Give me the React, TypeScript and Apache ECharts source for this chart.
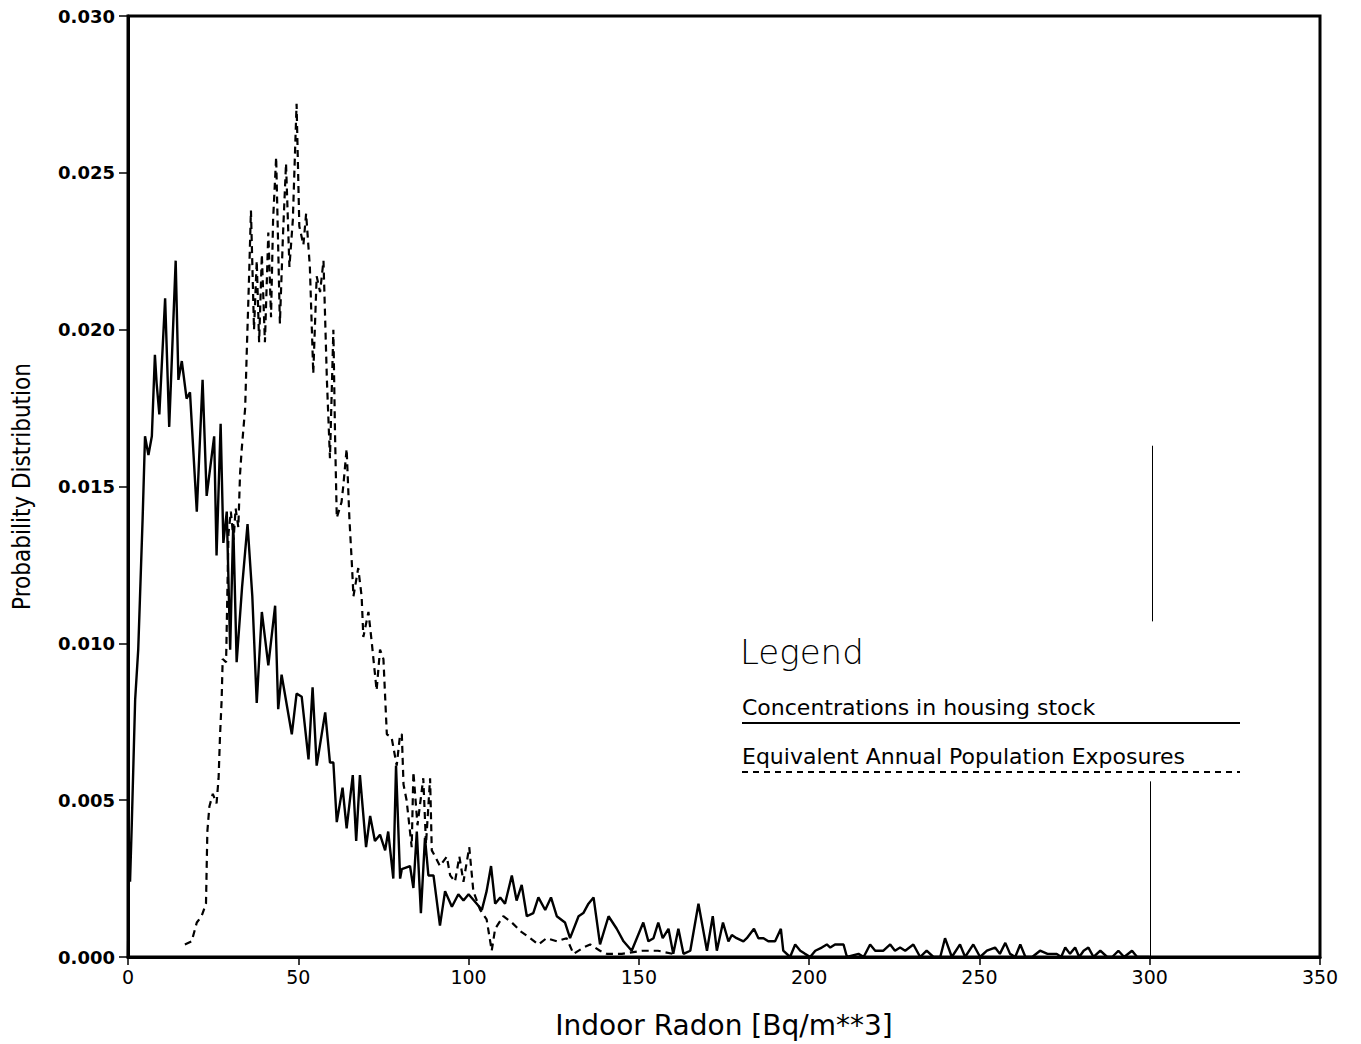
import React, { useEffect, useRef } from "react";
import * as echarts from "echarts";

// Concentrations in housing stock (solid)
const housingX = [0, 0.3, 0.6, 1.1, 2.1, 3.0, 3.5, 4.3, 5.0, 6.0, 7.0, 7.9, 8.4, 9.2, 10.9, 12.1, 14.0, 14.8, 15.8, 17.2, 18.2, 20.2, 21.9, 23.1, 25.3, 26.0, 27.2, 28.0, 29.0, 30.0, 30.9, 31.9, 33.5, 35.1, 36.5, 37.8, 39.3, 41.2, 43.2, 44.1, 45.1, 48.1, 49.5, 51.0, 53.0, 54.2, 55.4, 57.9, 59.3, 60.3, 61.3, 63.0, 64.2, 66.0, 67.0, 68.1, 69.9, 71.1, 72.5, 74.0, 75.5, 76.4, 77.9, 78.7, 79.9, 80.4, 82.8, 83.8, 84.8, 86.0, 87.2, 88.2, 89.7, 91.6, 93.1, 95.1, 97.0, 98.5, 100.0, 102.4, 103.9, 105.3, 106.6, 107.8, 109.3, 110.7, 112.7, 114.1, 115.6, 117.1, 119.0, 120.5, 122.5, 124.2, 125.9, 128.3, 129.8, 132.3, 133.7, 135.2, 136.7, 138.6, 141.1, 143.5, 145.5, 147.9, 151.3, 152.8, 154.3, 155.7, 157.0, 158.7, 160.1, 161.6, 163.1, 165.1, 167.5, 170.0, 171.7, 172.9, 174.7, 176.3, 177.3, 178.7, 180.7, 181.7, 183.8, 185.1, 186.6, 188.0, 190.0, 191.7, 192.4, 194.4, 195.9, 197.4, 198.8, 200.3, 201.8, 203.7, 205.2, 206.2, 207.6, 210.1, 211.1, 214.5, 216.0, 217.9, 219.4, 221.8, 223.8, 225.2, 226.7, 228.2, 230.6, 232.6, 234.5, 236.5, 238.5, 239.9, 241.9, 244.3, 245.8, 248.2, 250.2, 252.2, 254.6, 256.0, 257.6, 259.0, 260.5, 262.0, 263.5, 265.5, 267.8, 270.0, 272.7, 274.0, 275.2, 276.6, 278.1, 279.3, 280.6, 282.0, 283.5, 285.5, 287.5, 289.0, 290.8, 292.5, 294.8, 296.3, 300.0];
const housingY = [0, 0.0030, 0.0024, 0.0042, 0.0082, 0.0098, 0.0114, 0.0140, 0.0166, 0.0160, 0.0166, 0.0192, 0.0183, 0.0173, 0.0210, 0.0169, 0.0222, 0.0184, 0.0190, 0.0178, 0.0180, 0.0142, 0.0184, 0.0147, 0.0166, 0.0128, 0.0170, 0.0132, 0.0142, 0.0098, 0.0138, 0.0094, 0.0118, 0.0138, 0.0115, 0.0081, 0.0110, 0.0093, 0.0112, 0.0079, 0.0090, 0.0071, 0.0084, 0.0083, 0.0063, 0.0086, 0.0061, 0.0078, 0.0062, 0.0062, 0.0043, 0.0054, 0.0041, 0.0058, 0.0037, 0.0058, 0.0035, 0.0045, 0.0037, 0.0039, 0.0034, 0.0040, 0.0025, 0.0061, 0.0025, 0.0028, 0.0029, 0.0022, 0.0040, 0.0014, 0.0038, 0.0026, 0.0026, 0.0010, 0.0021, 0.0016, 0.0020, 0.0018, 0.0020, 0.0017, 0.0015, 0.0021, 0.0029, 0.0017, 0.0019, 0.0017, 0.0026, 0.0018, 0.0023, 0.0013, 0.0014, 0.0019, 0.0015, 0.0019, 0.0013, 0.0011, 0.0006, 0.0013, 0.0014, 0.0017, 0.0019, 0.0004, 0.0013, 0.0009, 0.0005, 0.0002, 0.0011, 0.0005, 0.0006, 0.0011, 0.0006, 0.0009, 0.0001, 0.0009, 0.0001, 0.0002, 0.0017, 0.0002, 0.0013, 0.0002, 0.0011, 0.0005, 0.0007, 0.0006, 0.0005, 0.0006, 0.0009, 0.0006, 0.0006, 0.0005, 0.0005, 0.0009, 0.0002, 0.0000, 0.0004, 0.0002, 0.0001, 0.0000, 0.0002, 0.0003, 0.0004, 0.0003, 0.0004, 0.0004, 0.0000, 0.0001, 0.0000, 0.0004, 0.0002, 0.0002, 0.0004, 0.0002, 0.0003, 0.0002, 0.0004, 0.0000, 0.0002, 0.0000, 0.0000, 0.0006, 0.0000, 0.0004, 0.0000, 0.0004, 0.0000, 0.0002, 0.0003, 0.0001, 0.00045, 0.0001, 0.0000, 0.0004, 0.0000, 0.0000, 0.0002, 0.0001, 0.0001, 0.0000, 0.0003, 0.0001, 0.0003, 0.0000, 0.0002, 0.0003, 0.0000, 0.0002, 0.0000, 0.0000, 0.0002, 0.0000, 0.0002, 0.0000, 0.0000];

// Equivalent Annual Population Exposures (dashed)
const exposureX = [16.7, 18.7, 20.2, 21.6, 22.9, 23.3, 23.9, 24.9, 26.0, 26.6, 27.0, 27.5, 27.8, 28.8, 29.5, 30.2, 31.0, 31.6, 32.4, 32.9, 33.4, 34.4, 34.9, 35.5, 36.1, 37.0, 37.8, 38.5, 39.3, 40.2, 41.2, 42.0, 42.6, 43.5, 44.6, 45.5, 46.4, 47.4, 48.4, 49.5, 50.3, 51.5, 52.3, 53.4, 54.4, 55.4, 56.4, 57.4, 58.4, 59.3, 60.3, 60.8, 61.3, 62.7, 63.2, 64.2, 65.0, 65.7, 66.2, 67.6, 68.6, 69.1, 70.6, 71.6, 73.0, 74.0, 75.0, 75.5, 76.0, 77.4, 78.9, 79.9, 80.4, 80.9, 81.8, 83.3, 83.8, 85.0, 86.7, 87.5, 88.7, 89.2, 90.2, 91.6, 93.6, 94.6, 96.0, 97.3, 98.5, 100.2, 101.4, 103.4, 105.3, 106.8, 107.8, 110.2, 112.7, 115.5, 118.1, 120.5, 122.9, 125.9, 128.8, 130.8, 133.7, 135.7, 138.6, 140.6, 145.0, 151.0, 155.6, 160.0];
const exposureY = [0.0004, 0.0005, 0.0011, 0.0013, 0.0017, 0.0040, 0.0048, 0.0052, 0.0049, 0.0057, 0.0070, 0.0082, 0.0095, 0.0094, 0.0135, 0.0142, 0.0133, 0.0143, 0.0137, 0.0154, 0.0162, 0.0175, 0.0194, 0.0215, 0.0238, 0.0200, 0.0222, 0.0196, 0.0224, 0.0196, 0.0231, 0.0204, 0.0235, 0.0255, 0.0202, 0.0230, 0.0253, 0.0220, 0.0235, 0.0272, 0.0233, 0.0227, 0.0237, 0.0220, 0.0186, 0.0217, 0.0212, 0.0222, 0.0184, 0.0159, 0.0200, 0.0166, 0.0140, 0.0145, 0.0150, 0.0162, 0.0140, 0.0126, 0.0115, 0.0124, 0.0115, 0.0102, 0.0110, 0.0100, 0.0085, 0.0098, 0.0095, 0.0083, 0.0071, 0.0070, 0.0061, 0.0071, 0.0071, 0.0055, 0.0050, 0.0035, 0.0059, 0.0042, 0.0057, 0.0036, 0.0057, 0.0034, 0.0032, 0.0029, 0.0032, 0.0026, 0.0024, 0.0032, 0.0024, 0.0035, 0.0021, 0.0015, 0.0012, 0.0002, 0.0009, 0.0013, 0.0011, 0.0008, 0.0006, 0.0004, 0.0006, 0.0005, 0.0006, 0.0001, 0.0003, 0.0004, 0.0002, 0.0001, 0.0001, 0.0002, 0.0002, 0.0001];

// thin vertical marker segments at 300 Bq/m**3
const markerSegments = [
  [[300.8, 0.0163], [300.8, 0.0107]],
  [[300.2, 0.0056], [300.2, 0.0]],
];

const xTicks = { min: 0, max: 350, interval: 50 };
const yTicks = { min: 0, max: 0.03, interval: 0.005 };

const legendTitle = "Legend";
const legendItems = ["Concentrations in housing stock", "Equivalent Annual Population Exposures"];

const FONT = "'DejaVu Sans', 'Noto Sans', sans-serif";

export default function App() {
  const ref = useRef<HTMLDivElement>(null);
  useEffect(() => {
    if (!ref.current) return;
    const chart = echarts.init(ref.current, null, { renderer: "svg" });
    const housing = housingX.map((x, i) => [x, housingY[i]]);
    const exposure = exposureX.map((x, i) => [x, exposureY[i]]);
    chart.setOption({
      animation: false,
      backgroundColor: "#ffffff",
      grid: {
        left: 128,
        right: 41,
        top: 16,
        bottom: 87,
        show: true,
        borderColor: "#000",
        borderWidth: 3,
      },
      xAxis: {
        type: "value",
        min: xTicks.min,
        max: xTicks.max,
        interval: xTicks.interval,
        name: "Indoor Radon [Bq/m**3]",
        nameLocation: "middle",
        nameGap: 54,
        nameTextStyle: { fontFamily: FONT, fontSize: 28, color: "#000" },
        axisLine: { show: true, lineStyle: { color: "#000", width: 3 } },
        axisTick: { show: true, inside: false, length: 8, lineStyle: { color: "#000", width: 1.5 } },
        axisLabel: { fontFamily: FONT, fontSize: 19, color: "#000", margin: 10 },
        splitLine: { show: false },
      },
      yAxis: {
        type: "value",
        min: yTicks.min,
        max: yTicks.max,
        interval: yTicks.interval,
        name: "Probability Distribution",
        nameLocation: "middle",
        nameGap: 94,
        nameRotate: 90,
        nameTextStyle: { fontFamily: "'DejaVu Sans Condensed', 'DejaVu Sans', sans-serif", fontSize: 24, color: "#000" },
        axisLine: { show: true, lineStyle: { color: "#000", width: 3 } },
        axisTick: { show: true, inside: false, length: 9, lineStyle: { color: "#000", width: 1.5 } },
        axisLabel: {
          fontFamily: FONT,
          fontSize: 18,
          fontWeight: "bold",
          color: "#000",
          margin: 13,
          formatter: (v: number) => v.toFixed(3),
        },
        splitLine: { show: false },
      },
      series: [
        {
          name: legendItems[0],
          type: "line",
          data: housing,
          showSymbol: false,
          symbol: "none",
          lineStyle: { color: "#000", width: 2.4, type: "solid" },
          z: 3,
          markLine: {
            silent: true,
            symbol: "none",
            label: { show: false },
            lineStyle: { color: "#000", width: 1, type: "solid" },
            data: markerSegments.map((s) => [{ coord: s[0] }, { coord: s[1] }]),
          },
        },
        {
          name: legendItems[1],
          type: "line",
          data: exposure,
          showSymbol: false,
          symbol: "none",
          lineStyle: { color: "#000", width: 2.2, type: [7, 5] },
          z: 2,
        },
      ],
      graphic: [
        {
          type: "text",
          left: 740,
          top: 635,
          style: { text: legendTitle, font: `200 34px ${FONT}`, fill: "#000" },
        },
        {
          type: "text",
          left: 742,
          top: 696,
          style: { text: legendItems[0], font: `22px ${FONT}`, fill: "#000" },
        },
        {
          type: "line",
          shape: { x1: 742, y1: 723, x2: 1240, y2: 723 },
          style: { stroke: "#000", lineWidth: 2 },
        },
        {
          type: "text",
          left: 742,
          top: 745,
          style: { text: legendItems[1], font: `22px ${FONT}`, fill: "#000" },
        },
        {
          type: "line",
          shape: { x1: 742, y1: 772, x2: 1240, y2: 772 },
          style: { stroke: "#000", lineWidth: 2, lineDash: [6, 5] },
        },
      ],
    });
    return () => chart.dispose();
  }, []);
  return (
    <div
      ref={ref}
      style={{ position: "fixed", left: 0, top: 0, width: 1361, height: 1044, background: "#fff" }}
    />
  );
}
